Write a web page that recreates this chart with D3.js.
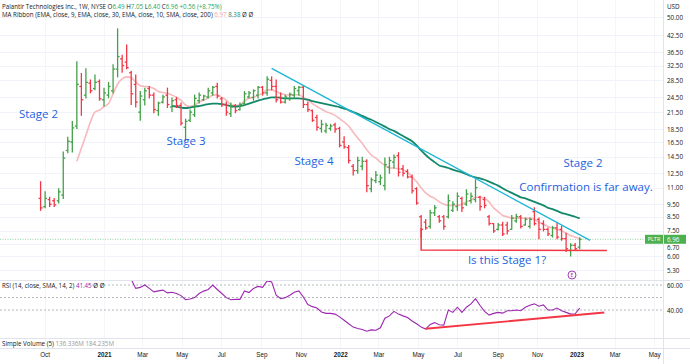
<!DOCTYPE html>
<html><head><meta charset="utf-8">
<script src="https://cdn.jsdelivr.net/npm/d3@7"></script>
<style>
html,body{margin:0;padding:0;background:#fff;}
svg{display:block;font-family:"Open Sans","Liberation Sans",sans-serif;}
</style></head><body>
<svg id="c" width="690" height="364"></svg>
<script>
// ---------------- DATA ----------------
const firstWeek = "2020-09-28";
const opens  = [10.0,9.3,9.9,9.8,9.8,10.3,15.3,16.5,19.0,27.0,25.0,27.8,26.5,28.2,24.0,25.0,26.0,31.5,34.5,33.5,
30.5,27.5,21.5,24.0,26.5,25.0,21.8,23.5,25.0,22.5,24.0,22.8,18.8,20.0,21.0,23.8,24.0,24.6,25.5,27.0,
24.2,23.0,21.2,22.8,22.0,23.2,24.6,24.5,25.0,26.8,25.5,28.5,27.0,24.5,23.5,24.2,25.0,26.0,26.8,23.0,
21.8,20.5,18.6,18.2,18.6,19.2,18.6,16.5,15.7,13.3,12.8,13.3,13.9,10.9,11.7,11.6,11.2,13.2,13.8,14.6,
13.0,12.7,12.1,10.9,8.5,8.1,7.8,8.8,8.5,8.5,8.5,9.0,9.3,10.0,9.5,9.8,9.9,10.1,9.9,8.5,
8.0,7.6,7.9,7.9,7.6,8.2,8.5,7.9,7.8,8.9,8.3,8.0,7.6,7.2,7.7,7.6,7.0,6.3,6.6,6.49];
const highs  = [11.6,10.6,10.1,10.0,10.9,15.1,17.2,19.8,33.6,30.3,31.6,28.6,29.9,28.6,26.6,28.0,32.7,45.0,35.6,39.0,
30.9,29.9,25.8,26.6,27.0,25.5,23.5,25.0,26.6,24.4,24.5,23.3,20.2,21.9,25.0,25.5,25.0,26.6,27.0,27.8,
24.5,23.5,23.3,23.0,23.3,25.8,25.8,26.2,27.0,27.0,29.4,29.4,28.6,25.5,25.0,25.5,27.0,27.0,27.2,23.5,
21.9,20.9,20.0,19.5,19.3,19.5,18.8,17.3,16.0,13.5,14.4,14.4,14.1,12.0,12.7,12.3,14.3,14.4,14.7,15.0,
13.4,12.9,12.3,11.0,8.6,8.3,9.0,9.4,8.6,8.6,10.3,9.7,10.5,10.1,10.8,10.5,11.8,10.2,10.1,8.6,
8.0,8.0,8.1,8.1,8.6,8.7,8.6,8.4,8.4,9.2,8.4,8.2,7.7,7.8,8.0,7.8,7.35,6.7,6.7,7.05];
const lows   = [9.0,9.2,9.3,9.3,9.6,10.0,15.0,15.1,18.6,20.9,24.4,25.5,26.2,23.9,22.7,24.4,25.5,29.4,30.6,31.6,
23.0,22.5,20.0,22.9,24.4,21.4,20.9,23.3,22.4,21.6,22.4,19.2,16.7,19.8,20.7,23.3,23.9,24.4,25.0,24.4,
22.6,20.9,20.7,21.4,21.9,22.9,24.4,23.9,24.4,25.0,25.0,26.2,23.5,23.3,23.3,23.9,24.4,25.0,22.4,21.6,
19.8,18.3,18.0,17.9,18.3,18.0,15.8,15.6,13.7,12.3,12.5,12.9,10.6,10.6,11.5,11.3,10.8,12.5,13.1,12.2,
12.2,12.0,10.5,9.5,7.1,7.6,7.7,8.6,8.1,7.6,8.4,8.9,9.0,8.9,9.4,9.6,9.7,9.0,9.2,7.9,
7.4,7.55,7.2,7.3,7.6,8.1,7.7,7.9,7.7,7.9,7.0,7.5,7.2,7.1,7.0,6.9,6.25,6.0,6.3,6.40];
const closes = [9.2,10.0,9.5,9.45,10.6,14.3,16.6,18.7,27.5,24.0,28.0,26.0,28.0,24.2,25.5,27.0,31.5,35.2,32.5,31.9,
25.3,23.5,24.8,26.0,25.0,22.0,23.3,24.6,23.0,23.8,22.8,19.5,19.8,21.5,24.3,25.0,24.8,26.0,26.8,24.8,
23.0,21.5,22.5,21.8,23.0,25.3,25.5,26.0,26.8,25.5,28.8,27.0,24.0,23.5,24.6,25.2,26.5,26.8,23.0,22.0,
20.0,18.8,19.3,19.1,19.0,18.5,16.0,15.8,14.0,12.8,14.0,13.9,11.2,11.8,12.3,12.0,13.5,14.0,14.4,12.6,
12.5,12.1,10.7,9.6,7.6,7.7,8.8,9.2,8.2,7.8,9.8,9.5,10.2,9.2,10.4,10.2,11.0,9.3,9.4,8.0,
7.5,7.9,7.3,7.5,8.4,8.5,7.8,8.3,8.3,8.0,7.6,7.6,7.3,7.7,7.1,7.0,6.4,6.6,6.4,6.96];

// EMA 9 (pink), starts at bar 8
const ema9Start = 8;
const ema9 = [13.9,15.6,17.5,19.7,21.5,21.9,22.6,23.2,25.3,27.6,28.9,29.4,29.2,28.1,27.2,27.0,26.9,26.5,25.8,25.6,
25.4,25.0,24.5,23.9,22.9,22.6,22.9,23.5,23.9,24.4,25.0,25.1,24.5,23.9,23.0,22.7,23.0,23.7,24.3,24.5,
25.0,25.4,26.2,26.2,25.8,25.4,25.1,25.0,25.1,25.1,24.5,23.9,23.2,22.6,22.1,21.6,21.3,20.9,20.3,19.7,
19.0,18.0,17.1,16.3,15.4,14.7,14.3,13.8,13.4,13.1,13.1,13.0,12.9,12.6,12.1,11.6,11.0,10.5,10.2,10.0,
9.7,9.5,9.4,9.4,9.4,9.5,9.7,9.85,10.1,10.1,10.0,9.7,9.2,8.9,8.6,8.5,8.4,8.4,8.4,8.4,
8.4,8.3,8.1,7.95,7.8,7.7,7.6,7.5,7.35,7.2,7.1,6.97];
// EMA 30 (green), starts at bar 29
const ema30Start = 29;
const ema30 = [22.7,22.6,22.4,22.3,22.4,22.6,22.7,22.9,23.1,23.2,23.2,23.1,22.9,22.7,22.6,22.7,22.9,23.2,23.5,23.8,
24.1,24.3,24.5,24.5,24.4,24.3,24.3,24.3,24.3,24.2,24.0,23.7,23.5,23.3,23.1,22.9,22.7,22.5,22.2,21.9,
21.5,21.2,20.8,20.4,20.1,19.7,19.3,18.9,18.5,18.2,17.8,17.4,17.0,16.6,16.0,15.3,14.7,14.2,13.8,13.4,
13.25,13.1,12.9,12.75,12.6,12.4,12.2,12.05,11.95,11.8,11.6,11.4,11.2,10.95,10.7,10.5,10.3,10.1,10.0,9.85,
9.7,9.55,9.4,9.2,9.1,8.95,8.8,8.7,8.6,8.5,8.38];
// RSI 14, starts at bar 14
const rsiStart = 14;
const rsi = [78,80,82,85,76,70,64.5,57.3,58.1,60,57.3,54.5,55.3,55.9,53.7,54.2,53.2,51.5,48.2,48.8,
49.9,53.2,55.1,56.4,60,56.4,53.2,49.9,48.2,48.5,48.5,55.3,54,57.3,58.9,58.1,63.3,62.5,51.8,49,
49.9,51.8,54.2,55.3,50.4,44.4,42.7,41.6,38.4,37.3,37.3,36.7,34.5,31.8,29,26.3,25.2,24.4,23,24.1,
23.8,25.8,33.4,35.3,38.9,36.7,35.3,34,31.2,29,26.3,24.7,28.5,29.9,28.2,27.9,40,38.1,42.2,38.1,
42.2,44.9,49,43.6,38.9,35.9,37.3,38.1,37.5,39.4,39.4,40,39.4,42.2,43.8,44.9,43,44.1,40,40,
41.6,39.4,38.1,36.7,37,41.45];

const priceTicks = [50,42.5,36.5,32.5,28.5,24.5,21.5,18.5,16.5,14.5,12.5,11,9.5,8.5,7.5,6.7,6.0,5.3];
const timeTicks = ["2020-10-01","2021-01-01","2021-03-01","2021-05-01","2021-07-01","2021-09-01","2021-11-01",
  "2022-01-01","2022-03-01","2022-05-01","2022-07-01","2022-09-01","2022-11-01","2023-01-01","2023-03-01","2023-05-01"];
const timeTickLabels = ["Oct","2021","Mar","May","Jul","Sep","Nov","2022","Mar","May","Jul","Sep","Nov","2023","Mar","May"];
const rsiTicks = [60,40];
const rsiGuides = [60,50,40];
const cyanTrend = [["2021-09-20",31.7],["2023-01-25",6.9]];
const supportLine = [["2022-05-09",7.7],["2022-05-09",6.33],["2023-02-20",6.30]];
const rsiTrend = [["2022-05-16",25.0],["2023-02-16",38.0]];
const lastClose = 6.96;
const notes = [
  {t:"Stage 2", x:38.5, y:113},
  {t:"Stage 3", x:186, y:140},
  {t:"Stage 4", x:314, y:160},
  {t:"Stage 2", x:583, y:162},
  {t:"Confirmation is far away.", x:586, y:186},
  {t:"Is this Stage 1?", x:507, y:259}
];

// ---------------- LAYOUT ----------------
const W = 690, H = 364, axisX = 663;
const mainBot = 280, rsiTop = 281, rsiBot = 338, volBot = 348;
const up = "#43a047", down = "#f23645";

const parse = d3.utcParse("%Y-%m-%d");
const start = parse(firstWeek);
const dates = opens.map((_, i) => d3.utcDay.offset(start, 7 * i));
const bars = dates.map((d, i) => ({d, o: opens[i], h: highs[i], l: lows[i], c: closes[i]}));

const x = d3.scaleUtc().domain([dates[0], dates[dates.length - 1]]).range([40.6, 579.7]);
const y = d3.scaleLog().domain([5.3, 50]).range([270, 17]);
const yr = d3.scaleLinear().domain([40, 60]).range([310, 285]);

const svg = d3.select("#c");
const defs = svg.append("defs");
defs.append("clipPath").attr("id", "cm").append("rect").attr("x", 0).attr("y", 0).attr("width", axisX).attr("height", mainBot);
defs.append("clipPath").attr("id", "cr").append("rect").attr("x", 0).attr("y", rsiTop).attr("width", axisX).attr("height", rsiBot - rsiTop);

// grid
const grid = svg.append("g");
grid.selectAll("line.h").data(priceTicks).join("line")
  .attr("x1", 0).attr("x2", axisX).attr("y1", d => Math.round(y(d)) + 0.5).attr("y2", d => Math.round(y(d)) + 0.5)
  .attr("stroke", "#f0f3fa").attr("stroke-width", 1);
grid.selectAll("line.v").data(timeTicks).join("line")
  .attr("x1", d => Math.round(x(parse(d)) + 2) + 0.5).attr("x2", d => Math.round(x(parse(d)) + 2) + 0.5)
  .attr("y1", 0).attr("y2", volBot).attr("stroke", "#f3f5f9").attr("stroke-width", 1);

// separators
svg.append("line").attr("x1", 0).attr("x2", W).attr("y1", mainBot + 0.5).attr("y2", mainBot + 0.5).attr("stroke", "#e0e3eb");
svg.append("line").attr("x1", 0).attr("x2", W).attr("y1", rsiBot + 0.5).attr("y2", rsiBot + 0.5).attr("stroke", "#e0e3eb");
svg.append("line").attr("x1", 0).attr("x2", W).attr("y1", volBot + 0.5).attr("y2", volBot + 0.5).attr("stroke", "#e0e3eb");
svg.append("line").attr("x1", axisX + 0.5).attr("x2", axisX + 0.5).attr("y1", 0).attr("y2", H).attr("stroke", "#e0e3eb");

const main = svg.append("g").attr("clip-path", "url(#cm)");

// current price line
main.append("line").attr("x1", 0).attr("x2", axisX).attr("y1", y(lastClose)).attr("y2", y(lastClose))
  .attr("stroke", "#8fd19e").attr("stroke-width", 1).attr("stroke-dasharray", "1,1.5");

// EMA lines
const lineP = d3.line().x(d => x(d[0])).y(d => y(d[1])).curve(d3.curveMonotoneX);
main.append("path").datum(ema9.map((v, k) => [dates[ema9Start + k], v]))
  .attr("d", lineP).attr("fill", "none").attr("stroke", "#f7b9bb").attr("stroke-width", 1.6);
main.append("path").datum(ema30.map((v, k) => [dates[ema30Start + k], v]))
  .attr("d", lineP).attr("fill", "none").attr("stroke", "#14896a").attr("stroke-width", 1.8);

// OHLC bars
const bg = main.append("g");
bars.forEach(b => {
  const cx = x(b.d), col = b.c >= b.o ? up : down;
  const g = bg.append("g").attr("stroke", col).attr("stroke-width", 1.3);
  g.append("line").attr("x1", cx).attr("x2", cx).attr("y1", y(b.h) - 0.5).attr("y2", y(b.l) + 0.5);
  g.append("line").attr("x1", cx - 2).attr("x2", cx).attr("y1", y(b.o)).attr("y2", y(b.o));
  g.append("line").attr("x1", cx).attr("x2", cx + 2).attr("y1", y(b.c)).attr("y2", y(b.c));
});

// drawings
const lineD = d3.line().x(d => x(parse(d[0]))).y(d => y(d[1]));
main.append("path").datum(cyanTrend).attr("d", lineD).attr("fill", "none").attr("stroke", "#1fb5d6").attr("stroke-width", 1.4);
main.append("path").datum(supportLine).attr("d", lineD).attr("fill", "none").attr("stroke", "#f23645").attr("stroke-width", 1.5);

// notes
svg.append("g").selectAll("text").data(notes).join("text")
  .attr("x", d => d.x).attr("y", d => d.y).attr("text-anchor", "middle").attr("dominant-baseline", "central")
  .attr("font-size", 11.5).attr("fill", "#1e5fe0").text(d => d.t);

// earnings marker
svg.append("circle").attr("cx", 572).attr("cy", 275).attr("r", 4).attr("fill", "#fff").attr("stroke", "#9c27b0").attr("stroke-width", 0.9);
svg.append("text").attr("x", 572).attr("y", 275.3).attr("text-anchor", "middle").attr("dominant-baseline", "central")
  .attr("font-size", 5).attr("fill", "#9c27b0").text("E");

// price axis
const pa = svg.append("g").attr("transform", `translate(${axisX},0)`)
  .call(d3.axisRight(y).tickValues(priceTicks).tickFormat(d3.format(".2f")).tickSize(0).tickPadding(4));
pa.select(".domain").remove();
pa.selectAll("text").attr("font-size", 6.3).attr("fill", "#131722").attr("font-family", "'Open Sans',sans-serif")
  .attr("dy", d => d === 6.7 ? "0.9em" : "0.32em");
svg.append("text").attr("x", 667).attr("y", 6).attr("dominant-baseline", "central").attr("font-size", 6.3).attr("fill", "#131722").text("USD");

// last price labels
const ly = y(lastClose);
svg.append("rect").attr("x", 645).attr("y", ly - 4.5).attr("width", 18).attr("height", 9).attr("fill", "#4caf50");
svg.append("text").attr("x", 654).attr("y", ly).attr("text-anchor", "middle").attr("dominant-baseline", "central")
  .attr("font-size", 5.5).attr("fill", "#fff").text("PLTR");
svg.append("rect").attr("x", 664).attr("y", ly - 4.5).attr("width", 22).attr("height", 9).attr("fill", "#4caf50");
svg.append("text").attr("x", 667).attr("y", ly).attr("dominant-baseline", "central")
  .attr("font-size", 6.3).attr("fill", "#fff").text(d3.format(".2f")(lastClose));

// RSI pane
const rp = svg.append("g");
rp.selectAll("line.g").data(rsiGuides).join("line")
  .attr("x1", 0).attr("x2", axisX).attr("y1", d => yr(d)).attr("y2", d => yr(d))
  .attr("stroke", "#a3a6af").attr("stroke-width", 0.8).attr("stroke-dasharray", "2,2");
const rc = svg.append("g").attr("clip-path", "url(#cr)");
const lineR = d3.line().x(d => x(d[0])).y(d => yr(d[1]));
rc.append("path").datum(rsi.map((v, k) => [dates[rsiStart + k], v]))
  .attr("d", lineR).attr("fill", "none").attr("stroke", "#9c27b0").attr("stroke-width", 1.1);
rc.append("path").datum(rsiTrend.map(d => [parse(d[0]), d[1]]))
  .attr("d", lineR).attr("fill", "none").attr("stroke", "#f23645").attr("stroke-width", 1.8);
const ra = svg.append("g").attr("transform", `translate(${axisX},0)`)
  .call(d3.axisRight(yr).tickValues(rsiTicks).tickFormat(d3.format(".2f")).tickSize(0).tickPadding(4));
ra.select(".domain").remove();
ra.selectAll("text").attr("font-size", 6.3).attr("fill", "#131722");

// legends
function legend(yy, parts, bgW) {
  if (bgW) svg.append("rect").attr("x", 0).attr("y", yy - 4).attr("width", bgW).attr("height", 8).attr("fill", "#fff");
  const t = svg.append("text").attr("x", 2).attr("y", yy).attr("dominant-baseline", "central").attr("font-size", 6.2);
  parts.forEach(p => t.append("tspan").attr("fill", p[1]).text(p[0]));
}
const dk = "#131722", gn = "#26a65b";
legend(6, [["Palantir Technologies Inc., 1W, NYSE  ", dk], ["O", dk], ["6.49 ", gn], ["H", dk], ["7.05 ", gn], ["L", dk], ["6.40 ", gn], ["C", dk], ["6.96 +0.56 (+8.75%)", gn]]);
legend(14, [["MA Ribbon (EMA, close, 9, EMA, close, 30, EMA, close, 10, SMA, close, 200)  ", dk], ["6.97  ", "#f4a6a8"], ["8.38  ", "#14896a"], ["Ø  Ø", dk]]);
legend(285, [["RSI (14, close, SMA, 14, 2)  ", dk], ["41.45  ", "#9c27b0"], ["Ø  Ø", dk]], 88);
legend(343, [["Simple Volume (5)  ", dk], ["136.336M  184.235M", "#9598a1"]]);

// time axis
const ta = svg.append("g").attr("transform", `translate(2,${volBot + 1})`)
  .call(d3.axisBottom(x).tickValues(timeTicks.map(parse)).tickFormat((d, i) => timeTickLabels[i]).tickSize(0).tickPadding(4));
ta.select(".domain").remove();
ta.selectAll("text").attr("font-size", 6.3).attr("fill", "#131722")
  .attr("font-weight", (d, i) => /^\d{4}$/.test(timeTickLabels[i]) ? 600 : 400);
</script>
</body></html>
